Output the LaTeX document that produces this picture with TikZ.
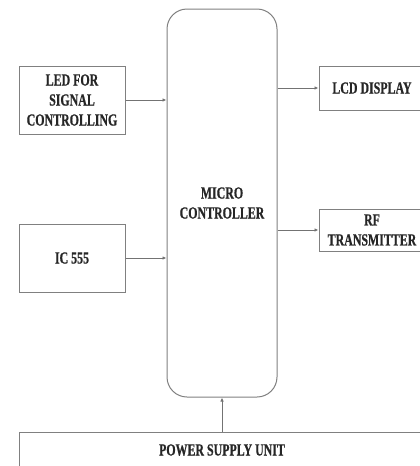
\documentclass[tikz,border=0pt]{standalone}
\usepackage{fontspec}
\newfontfamily\rotulo{Liberation Serif Bold}[FakeStretch=0.7,FakeBold=0.6]
\usetikzlibrary{arrows.meta}

\begin{document}
\begin{tikzpicture}[x=1pt,y=-1pt,
    bloque/.style={draw=black!50,line width=1pt,rectangle,align=center,
      text=black!85,font=\rotulo\fontsize{17}{20}\selectfont,inner sep=2pt},
    flecha/.style={draw=black!55,line width=0.9pt,-{Latex[length=4pt,width=3.5pt]}}]
    \clip (0,0) rectangle (420,466);
    \fill[white] (0,0) rectangle (420,466);

    % Microcontrolador central
    \node[bloque,rounded corners=20pt,minimum width=110pt,minimum height=388pt] (mc) at (222,203) {MICRO\\CONTROLLER};

    % Entradas a la izquierda
    \node[bloque,minimum width=106pt,minimum height=68pt] (led) at (72,100) {LED FOR\\SIGNAL\\CONTROLLING};
    \node[bloque,minimum width=106pt,minimum height=68pt] (ic) at (72,258) {IC 555};

    % Salidas a la derecha
    \node[bloque,minimum width=106pt,minimum height=44pt] (lcd) at (372,88) {LCD DISPLAY};
    \node[bloque,minimum width=106pt,minimum height=42pt] (rf) at (372,230) {RF\\TRANSMITTER};

    % Fuente de alimentacion
    \node[bloque,minimum width=406pt,minimum height=36pt] (psu) at (222,450) {POWER SUPPLY UNIT};

    % Conexiones
    \draw[flecha] (led.east) -- (led.east -| mc.west);
    \draw[flecha] (ic.east) -- (ic.east -| mc.west);
    \draw[flecha] (lcd.west -| mc.east) -- (lcd.west);
    \draw[flecha] (rf.west -| mc.east) -- (rf.west);
    \draw[flecha] (psu.north) -- (mc.south);
\end{tikzpicture}
\end{document}
